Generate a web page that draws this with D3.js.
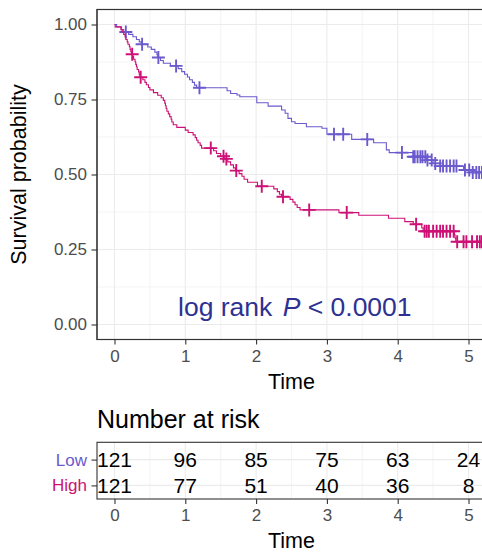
<!DOCTYPE html>
<html><head><meta charset="utf-8">
<script src="https://cdn.jsdelivr.net/npm/d3@7"></script>
<style>
body{margin:0;background:#fff}
svg{display:block}
text{font-family:"Liberation Sans", Arial, Helvetica, sans-serif}
</style>
</head><body>
<svg id="c" width="482" height="553"></svg>
<script>
// ---------------- data ----------------
const groups = ["Low", "High"];
const groupColors = ["#6A5ACD", "#CD1076"];
const timeTicks = [0, 1, 2, 3, 4, 5];
const survTicks = [0, 0.25, 0.5, 0.75, 1];
const survTickLabels = ["0.00", "0.25", "0.50", "0.75", "1.00"];
const riskLow = [121, 96, 85, 75, 63, 24];
const riskHigh = [121, 77, 51, 40, 36, 8];

const lowTime = [0, 0.03, 0.10, 0.13, 0.20, 0.26, 0.31, 0.35, 0.38, 0.47, 0.52, 0.57, 0.60, 0.61, 0.65, 0.69, 0.79, 0.90, 0.95, 0.99, 1.03, 1.06, 1.10, 1.13, 1.16, 1.59, 1.64, 1.73, 1.77, 2.01, 2.17, 2.36, 2.41, 2.45, 2.50, 2.55, 2.71, 2.93, 3.00, 3.35, 3.66, 3.84, 3.88, 4.22, 4.41, 4.50, 4.60, 4.93, 5.05];
const lowSurv = [1, 0.992, 0.983, 0.975, 0.967, 0.959, 0.950, 0.942, 0.934, 0.925, 0.917, 0.908, 0.899, 0.890, 0.880, 0.871, 0.862, 0.853, 0.843, 0.834, 0.825, 0.816, 0.807, 0.798, 0.789, 0.779, 0.770, 0.765, 0.759, 0.739, 0.728, 0.715, 0.704, 0.687, 0.676, 0.670, 0.659, 0.654, 0.634, 0.617, 0.606, 0.582, 0.573, 0.559, 0.548, 0.537, 0.528, 0.515, 0.507];
const lowCensor = [0.16, 0.39, 0.62, 0.87, 1.20, 3.10, 3.23, 3.57, 4.06, 4.22, 4.24, 4.28, 4.32, 4.35, 4.39, 4.42, 4.48, 4.53, 4.60, 4.64, 4.69, 4.74, 4.79, 4.83, 4.95, 5.01, 5.06, 5.11, 5.15, 5.19];

const highTime = [0, 0.01, 0.09, 0.11, 0.13, 0.15, 0.16, 0.18, 0.19, 0.21, 0.22, 0.23, 0.24, 0.26, 0.27, 0.29, 0.30, 0.31, 0.32, 0.34, 0.35, 0.36, 0.40, 0.43, 0.45, 0.48, 0.50, 0.55, 0.61, 0.66, 0.69, 0.71, 0.72, 0.73, 0.74, 0.76, 0.78, 0.80, 0.81, 0.83, 0.88, 1.00, 1.04, 1.11, 1.14, 1.16, 1.18, 1.21, 1.23, 1.40, 1.44, 1.50, 1.55, 1.60, 1.64, 1.68, 1.71, 1.76, 1.80, 1.83, 1.88, 2.02, 2.25, 2.30, 2.33, 2.36, 2.48, 2.52, 2.55, 2.58, 2.62, 3.17, 3.45, 3.87, 4.10, 4.22, 4.34, 4.36, 4.80, 4.81, 4.82];
const highSurv = [1, 0.992, 0.983, 0.975, 0.967, 0.959, 0.950, 0.942, 0.934, 0.926, 0.917, 0.909, 0.901, 0.893, 0.884, 0.876, 0.867, 0.859, 0.850, 0.842, 0.833, 0.824, 0.816, 0.807, 0.799, 0.790, 0.782, 0.773, 0.764, 0.756, 0.747, 0.738, 0.729, 0.720, 0.711, 0.702, 0.693, 0.684, 0.675, 0.666, 0.657, 0.648, 0.640, 0.632, 0.623, 0.614, 0.606, 0.597, 0.588, 0.579, 0.570, 0.561, 0.552, 0.542, 0.532, 0.522, 0.513, 0.503, 0.494, 0.484, 0.474, 0.461, 0.452, 0.443, 0.434, 0.426, 0.417, 0.408, 0.399, 0.390, 0.382, 0.373, 0.364, 0.354, 0.343, 0.334, 0.322, 0.311, 0.299, 0.288, 0.276];
const highCensor = [0.25, 0.37, 1.36, 1.54, 1.58, 1.72, 2.08, 2.38, 2.75, 3.28, 4.26, 4.38, 4.41, 4.44, 4.50, 4.55, 4.60, 4.64, 4.69, 4.74, 4.79, 4.84, 4.93, 4.97, 5.05, 5.12, 5.16, 5.19];

// ---------------- layout ----------------
const svg = d3.select("#c");
const FONT = '"Liberation Sans", Arial, Helvetica, sans-serif';
const panel = {l: 97, r: 486, t: 9.5, b: 339.5};
const table = {t: 442.3, b: 499};

const x = d3.scaleLinear().domain([-0.247, 5.247]).range([panel.l, panel.r]);
const y = d3.scaleLinear().domain([-0.05, 1.05]).range([panel.b, panel.t]);
const rowY = d3.scalePoint().domain(groups).range([459.6, 485.4]);

const mids = a => a.slice(1).map((d, i) => (d + a[i]) / 2);
const minorX = mids(timeTicks);
const minorY = mids(survTicks);

// ---------------- main panel ----------------
const gMain = svg.append("g");
gMain.append("rect").attr("x", panel.l).attr("y", panel.t)
  .attr("width", panel.r - panel.l).attr("height", panel.b - panel.t).attr("fill", "#fff");

gMain.selectAll("line.gmy").data(minorY).join("line")
  .attr("x1", panel.l).attr("x2", panel.r).attr("y1", d => y(d)).attr("y2", d => y(d))
  .attr("stroke", "#EFEFEF").attr("stroke-width", 0.7);
gMain.selectAll("line.gmx").data(minorX).join("line")
  .attr("y1", panel.t).attr("y2", panel.b).attr("x1", d => x(d)).attr("x2", d => x(d))
  .attr("stroke", "#EFEFEF").attr("stroke-width", 0.7);
gMain.selectAll("line.gy").data(survTicks).join("line")
  .attr("x1", panel.l).attr("x2", panel.r).attr("y1", d => y(d)).attr("y2", d => y(d))
  .attr("stroke", "#EBEBEB").attr("stroke-width", 1.1);
gMain.selectAll("line.gx").data(timeTicks).join("line")
  .attr("y1", panel.t).attr("y2", panel.b).attr("x1", d => x(d)).attr("x2", d => x(d))
  .attr("stroke", "#EBEBEB").attr("stroke-width", 1.1);

svg.append("clipPath").attr("id", "clipMain").append("rect")
  .attr("x", panel.l).attr("y", panel.t).attr("width", panel.r - panel.l).attr("height", panel.b - panel.t);

const series = [
  {name: "Low", times: lowTime, surv: lowSurv, censor: lowCensor, color: groupColors[0]},
  {name: "High", times: highTime, surv: highSurv, censor: highCensor, color: groupColors[1]}
];
const stepAt = (s, t) => s.surv[Math.max(0, d3.bisectRight(s.times, t) - 1)];
const line = d3.line().x(d => x(d[0])).y(d => y(d[1])).curve(d3.curveStepAfter);
const cross = "M-6.5,0H6.5M0,-6.5V6.5";

const gCurves = svg.append("g").attr("clip-path", "url(#clipMain)");
series.forEach(s => {
  const end = d3.max(s.censor);
  const pts = s.times.map((t, i) => [t, s.surv[i]]);
  pts.push([end, s.surv[s.surv.length - 1]]);
  gCurves.append("path").datum(pts).attr("d", line)
    .attr("fill", "none").attr("stroke", s.color).attr("stroke-width", 1.1);
  gCurves.append("g").selectAll("path").data(s.censor).join("path")
    .attr("d", cross)
    .attr("transform", t => `translate(${x(t)},${y(stepAt(s, t))})`)
    .attr("stroke", s.color).attr("stroke-width", 1.9).attr("fill", "none");
});

gMain.append("rect").attr("x", panel.l).attr("y", panel.t)
  .attr("width", panel.r - panel.l).attr("height", panel.b - panel.t)
  .attr("fill", "none").attr("stroke", "#333333").attr("stroke-width", 1.1);
svg.append("rect").attr("x", panel.l).attr("y", panel.t)
  .attr("width", panel.r - panel.l).attr("height", panel.b - panel.t)
  .attr("fill", "none").attr("stroke", "#333333").attr("stroke-width", 1.1);

// axes
function styleAxis(g) {
  g.select(".domain").remove();
  g.selectAll(".tick line").attr("stroke", "#333333").attr("stroke-width", 1.1);
  g.selectAll(".tick text").attr("fill", "#4D4D4D").style("font-size", "17px").style("font-family", FONT);
}
svg.append("g").attr("transform", `translate(${panel.l},0)`)
  .call(d3.axisLeft(y).tickValues(survTicks).tickFormat((d, i) => survTickLabels[i]).tickSize(5.5).tickPadding(4.5))
  .call(styleAxis);
svg.append("g").attr("transform", `translate(0,${panel.b})`)
  .call(d3.axisBottom(x).tickValues(timeTicks).tickFormat(d3.format("d")).tickSize(5).tickPadding(5))
  .call(styleAxis);

svg.append("text").attr("transform", `translate(26,${(panel.t + panel.b) / 2}) rotate(-90)`)
  .attr("text-anchor", "middle").style("font-size", "21.5px").attr("fill", "#000")
  .text("Survival probability");
svg.append("text").attr("x", (panel.l + panel.r) / 2).attr("y", 388.5)
  .attr("text-anchor", "middle").style("font-size", "21.5px").attr("fill", "#000").text("Time");

// log-rank annotation
const lr = svg.append("text").attr("x", 178).attr("y", 316)
  .style("font-size", "26.5px").attr("fill", "#2E3192");
lr.append("tspan").text("log rank ");
lr.append("tspan").attr("dx", 3).style("font-style", "italic").text("P");
lr.append("tspan").text(" < 0.0001");

// ---------------- risk table ----------------
svg.append("text").attr("x", 97).attr("y", 428.3).style("font-size", "25px").attr("fill", "#000")
  .text("Number at risk");

const gT = svg.append("g");
gT.append("rect").attr("x", panel.l).attr("y", table.t).attr("width", panel.r - panel.l)
  .attr("height", table.b - table.t).attr("fill", "#fff");
gT.selectAll("line.tmx").data(minorX).join("line")
  .attr("y1", table.t).attr("y2", table.b).attr("x1", d => x(d)).attr("x2", d => x(d))
  .attr("stroke", "#EFEFEF").attr("stroke-width", 0.7);
gT.selectAll("line.tx").data(timeTicks).join("line")
  .attr("y1", table.t).attr("y2", table.b).attr("x1", d => x(d)).attr("x2", d => x(d))
  .attr("stroke", "#EBEBEB").attr("stroke-width", 1.1);
gT.selectAll("line.ty").data(groups).join("line")
  .attr("x1", panel.l).attr("x2", panel.r).attr("y1", d => rowY(d)).attr("y2", d => rowY(d))
  .attr("stroke", "#EBEBEB").attr("stroke-width", 1.1);

const riskRows = [{g: "Low", vals: riskLow}, {g: "High", vals: riskHigh}];
riskRows.forEach(r => {
  gT.append("g").selectAll("text").data(r.vals).join("text")
    .attr("x", (d, i) => x(timeTicks[i]))
    .attr("y", rowY(r.g) + 7.6)
    .attr("text-anchor", "middle").style("font-size", "21px").attr("fill", "#000")
    .text(d => d);
});
gT.append("rect").attr("x", panel.l).attr("y", table.t).attr("width", panel.r - panel.l)
  .attr("height", table.b - table.t).attr("fill", "none").attr("stroke", "#333333").attr("stroke-width", 1.1);

const yAxT = svg.append("g").attr("transform", `translate(${panel.l},0)`)
  .call(d3.axisLeft(rowY).tickSize(5.5).tickPadding(4.5))
  .call(styleAxis);
yAxT.selectAll(".tick text").attr("fill", (d) => groupColors[groups.indexOf(d)]);

svg.append("g").attr("transform", `translate(0,${table.b})`)
  .call(d3.axisBottom(x).tickValues(timeTicks).tickFormat(d3.format("d")).tickSize(5).tickPadding(5))
  .call(styleAxis);
svg.append("text").attr("x", (panel.l + panel.r) / 2).attr("y", 548.3)
  .attr("text-anchor", "middle").style("font-size", "21.5px").attr("fill", "#000").text("Time");
</script>
</body></html>
